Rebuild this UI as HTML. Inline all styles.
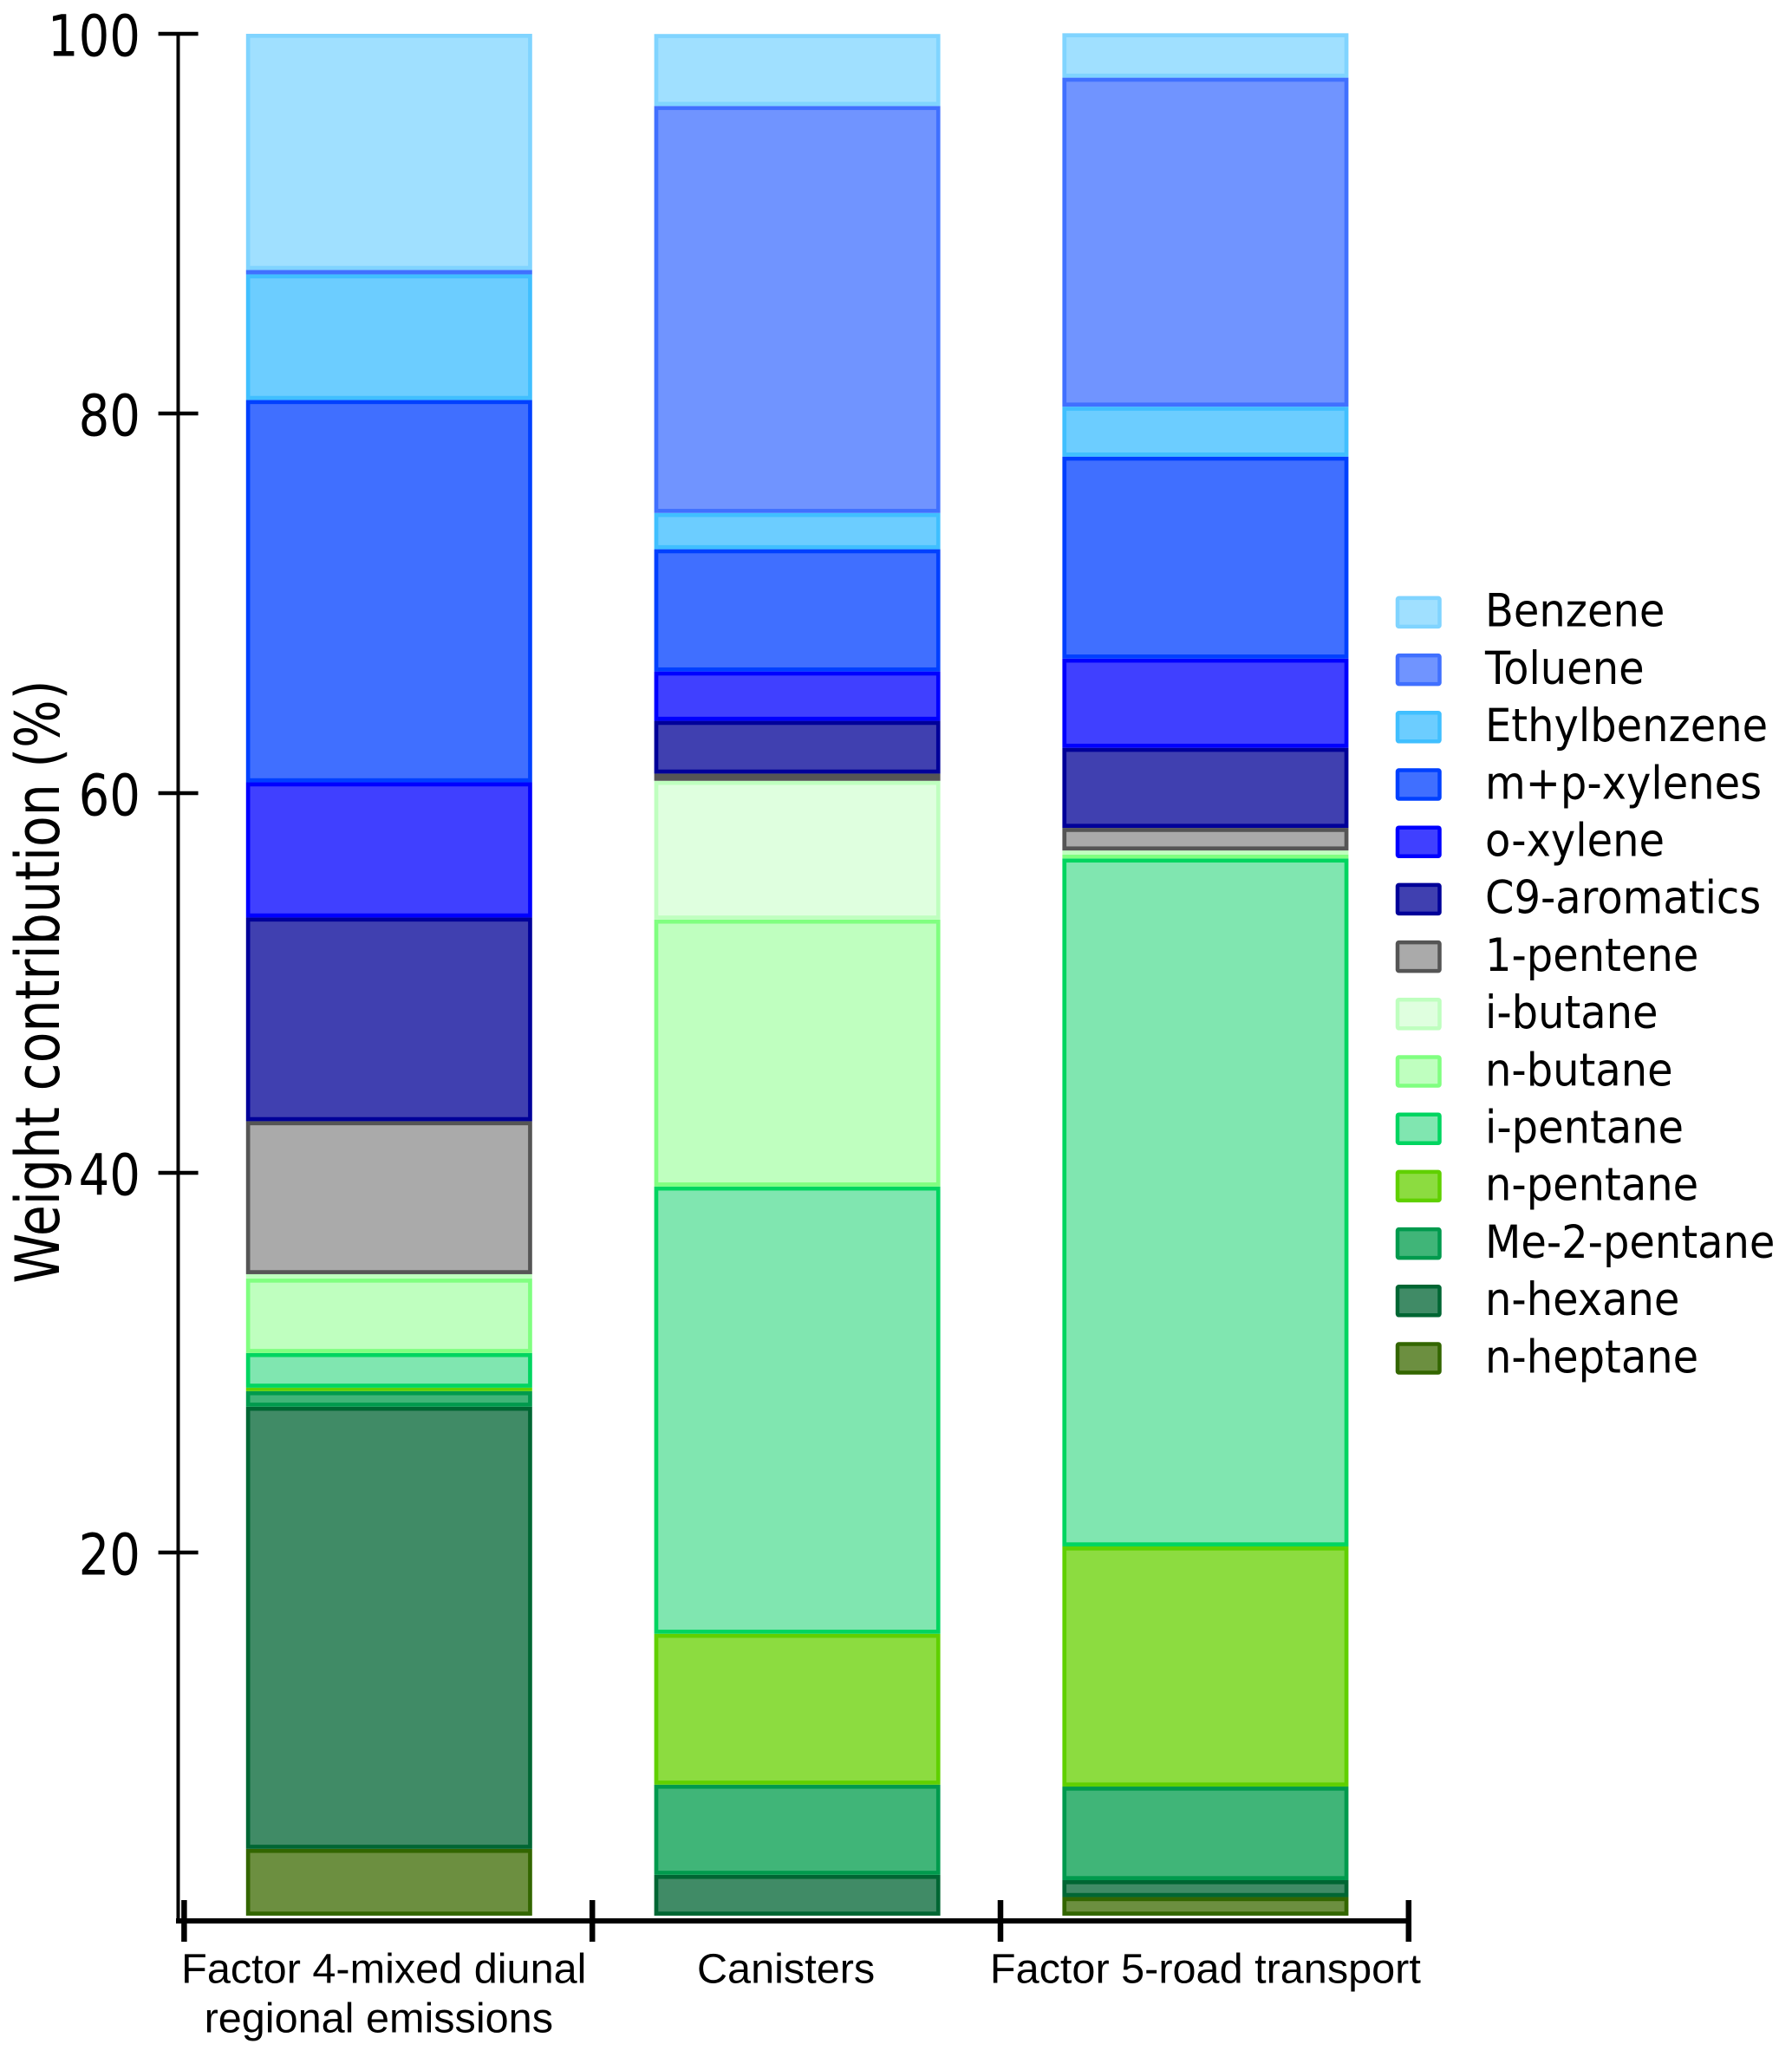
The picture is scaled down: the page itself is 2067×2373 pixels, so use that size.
<!DOCTYPE html>
<html lang="en">
<head>
<meta charset="utf-8">
<title>Weight contribution stacked bars</title>
<style>
html,body{margin:0;padding:0;background:#fff;}
svg{display:block;}
text{fill:#000;}
.tah{font-family:"DejaVu Sans",sans-serif;}
.ari{font-family:"Liberation Sans",sans-serif;}
</style>
</head>
<body>
<svg id="chart" xmlns="http://www.w3.org/2000/svg" width="2067" height="2373" viewBox="0 0 2067 2373"></svg>
<script>
// ---- data (listed top of stack to bottom, same order as the legend) ----
const categories = ["Factor 4-mixed diunal|regional emissions", "Canisters", "Factor 5-road transport"];
const species = ["Benzene","Toluene","Ethylbenzene","m+p-xylenes","o-xylene","C9-aromatics","1-pentene","i-butane","n-butane","i-pentane","n-pentane","Me-2-pentane","n-hexane","n-heptane"];
const factor4Values = [12.44,0.23,6.62,20.14,7.12,10.73,8.06,0.23,3.92,1.83,0.18,0.82,23.29,3.52];
const canisterValues = [3.79,21.44,1.91,6.44,2.60,2.78,0.38,7.31,14.06,23.56,7.95,4.75,2.15,0];
const factor5Values = [2.34,17.33,2.63,10.64,4.70,4.22,1.19,0.21,0.21,36.24,12.65,4.93,0.89,0.98];
const yTicks = [100,80,60,40,20];
const fills = ["#a0e0ff","#7094ff","#6ccdff","#406fff","#4040ff","#4040b0","#aaaaaa","#dfffdf","#bfffbf","#80e6b0","#8cdc40","#40b578","#408b66","#6c8f40"];
const borders = ["#80d4ff","#4070ff","#40bfff","#0040ff","#0000ff","#000099","#555555","#bfffbf","#80ff80","#00d560","#60d000","#009a4d","#006633","#336600"];
const seriesByCategory = [factor4Values, canisterValues, factor5Values];

// ---- layout ----
const SVGNS = "http://www.w3.org/2000/svg";
const svg = document.getElementById("chart");
const TOP_Y = 39, PX_PER_UNIT = 21.9, STACK_BASE = 0.87;
const X0 = 212.4, BAND = 470.8, BAR_W = 330, BORDER = 4.7;
const AXIS_X = 205.5, AXIS_Y = 2216;
const xLabelNudge = [-6, -13, 0];
function yScale(v){ return TOP_Y + (100 - v) * PX_PER_UNIT; }
function bandCenter(i){ return X0 + (i + 0.5) * BAND + 1; }

function make(tag, attrs, parent){
  const el = document.createElementNS(SVGNS, tag);
  for (const k in attrs) el.setAttribute(k, attrs[k]);
  (parent || svg).appendChild(el);
  return el;
}

// ---- bars ----
seriesByCategory.forEach(function(values, c){
  const group = make("g", {});
  
  
  const left = bandCenter(c) - BAR_W / 2;
  let cum = STACK_BASE;
  for (let s = values.length - 1; s >= 0; s--) {
    const val = values[s];
    if (val <= 0) continue;
    const yBottom = yScale(cum);
    const yTop = yScale(cum + val);
    const h = yBottom - yTop;
    const seg = make("g", {}, group);
    
    
    make("rect", {x:left, y:yTop, width:BAR_W, height:h, fill:borders[s]}, seg);
    if (h > 2 * BORDER) {
      make("rect", {x:left + BORDER, y:yTop + BORDER, width:BAR_W - 2 * BORDER, height:h - 2 * BORDER, fill:fills[s]}, seg);
    }
    cum += val;
  }
});

// ---- y axis ----
const yAxisLine = make("line", {x1:AXIS_X, x2:AXIS_X, y1:yScale(100) - 2, y2:AXIS_Y, stroke:"#000", "stroke-width":4});


yTicks.forEach(function(t){
  const tick = make("line", {x1:182.6, x2:228.6, y1:yScale(t), y2:yScale(t), stroke:"#000", "stroke-width":4.5});
  
  
  const lab = make("text", {"class":"tah", "font-size":66, "text-anchor":"end", transform:"translate(162," + (yScale(t) + 25.5) + ") scale(0.85,1)"});
  lab.textContent = String(t);
  
  
});
const yTitle = make("text", {"class":"tah", "font-size":70, "text-anchor":"middle", transform:"translate(68,1132.5) rotate(-90) scale(0.835,1)"});
yTitle.textContent = "Weight contribution (%)";



// ---- x axis ----
const xAxisLine = make("line", {x1:203, x2:X0 + categories.length * BAND, y1:AXIS_Y, y2:AXIS_Y, stroke:"#000", "stroke-width":6});


for (let i = 0; i <= categories.length; i++) {
  const tx = X0 + i * BAND;
  const xt = make("line", {x1:tx, x2:tx, y1:2192, y2:2240, stroke:"#000", "stroke-width":6.5});
  
  
}
categories.forEach(function(cat, i){
  cat.split("|").forEach(function(line, k){
    const t = make("text", {"class":"ari", "font-size":48.6, "text-anchor":"middle", x:bandCenter(i) + xLabelNudge[i] - k * 6, y:2287.5 + k * 57});
    t.textContent = line;
    
    
  });
});

// ---- legend ----
species.forEach(function(name, s){
  const rowY = 687.7 + s * 66.2;
  const entry = make("g", {});
  
  
  const sw = make("rect", {x:1612, y:rowY + 2.2, width:48.5, height:33, fill:fills[s], stroke:borders[s], "stroke-width":4.5, rx:1.5}, entry);
  
  
  const lab = make("text", {"class":"tah", "font-size":53, transform:"translate(1713," + (rowY + 35) + ") scale(0.905,1)"}, entry);
  lab.textContent = name;
  
  
});
</script>
</body>
</html>
